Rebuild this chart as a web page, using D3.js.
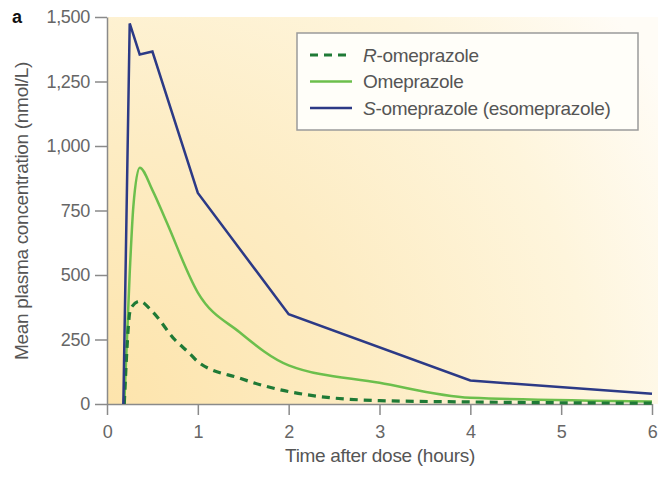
<!DOCTYPE html>
<html lang="en">
<head>
<meta charset="UTF-8">
<title>Omeprazole plasma concentration</title>
<style>
body { margin: 0; background: #fff; }
svg { font-family: "Liberation Sans", Arial, sans-serif; }
.axis path, .axis line { stroke: #8a8a8a; stroke-width: 1.5; }
.axis text { fill: #666; font-size: 18px; letter-spacing: -0.3px; }
</style>
</head>
<body>
<svg width="658" height="477"></svg>
<script src="https://d3js.org/d3.v7.min.js"></script>
<script>

// R-omeprazole
const rTimes  = [0.19, 0.26, 0.36, 0.5, 0.75, 0.91, 1, 1.46, 2, 3, 4, 6];
const rValues = [0, 370, 398, 358, 248, 196, 164, 100, 48, 13, 8, 3];

// Omeprazole (racemic)
const oTimes  = [0.19, 0.25, 0.29, 0.36, 0.5, 0.65, 1, 1.46, 2, 3, 4, 6];
const oValues = [0, 507, 765, 916, 829, 710, 432, 278, 150, 82, 24, 10];

// S-omeprazole (esomeprazole)
const sTimes  = [0.18, 0.25, 0.36, 0.5, 1, 2, 4, 6];
const sValues = [0, 1475, 1355, 1366, 818, 348, 91, 40];

const xTicks = [0, 1, 2, 3, 4, 5, 6];
const yTicks = [0, 250, 500, 750, 1000, 1250, 1500];

const legendLabels = [
    ['R', '-omeprazole'],
    ['', 'Omeprazole'],
    ['S', '-omeprazole (esomeprazole)']
];

var svg = d3.select('svg');

var x = d3.scaleLinear().domain([0, 6]).range([107, 652]);
var y = d3.scaleLinear().domain([0, 1500]).range([404, 17]);

// background gradient
var defs = svg.append('defs');
var grad = defs.append('radialGradient')
    .attr('id', 'bg')
    .attr('gradientUnits', 'userSpaceOnUse')
    .attr('cx', 108).attr('cy', 404).attr('r', 640);
grad.append('stop').attr('offset', 0).attr('stop-color', '#fde4ac');
grad.append('stop').attr('offset', 0.4).attr('stop-color', '#fdecc3');
grad.append('stop').attr('offset', 0.75).attr('stop-color', '#fef5dc');
grad.append('stop').attr('offset', 1).attr('stop-color', '#fffcf6');

svg.append('rect')
    .attr('x', 108).attr('y', 17)
    .attr('width', 550).attr('height', 387)
    .attr('fill', 'url(#bg)');

// axes
svg.append('g')
    .attr('class', 'axis')
    .attr('transform', 'translate(0,404)')
    .call(d3.axisBottom(x).tickValues(xTicks).tickFormat(d3.format('d')).tickSize(11).tickPadding(8).tickSizeOuter(0))
    .call(g => g.selectAll('text').attr('dy', '0.85em'));

svg.append('g')
    .attr('class', 'axis')
    .attr('transform', 'translate(107,0)')
    .call(d3.axisLeft(y).tickValues(yTicks).tickFormat(d3.format(',')).tickSize(12).tickPadding(5).tickSizeOuter(0));

// axis titles
svg.append('text')
    .attr('x', 380).attr('y', 462)
    .attr('text-anchor', 'middle')
    .attr('fill', '#555')
    .attr('font-size', 19)
    .attr('letter-spacing', -0.3)
    .text('Time after dose (hours)');

svg.append('text')
    .attr('transform', 'translate(28,211) rotate(-90)')
    .attr('text-anchor', 'middle')
    .attr('fill', '#555')
    .attr('font-size', 19)
    .attr('letter-spacing', -0.3)
    .text('Mean plasma concentration (nmol/L)');

svg.append('text')
    .attr('x', 12).attr('y', 23)
    .attr('font-size', 18)
    .attr('font-weight', 'bold')
    .attr('fill', '#111')
    .text('a');

// lines
var lineSmooth = d3.line()
    .x(d => x(d[0]))
    .y(d => y(d[1]))
    .curve(d3.curveMonotoneX);

var lineStraight = d3.line()
    .x(d => x(d[0]))
    .y(d => y(d[1]));

svg.append('path')
    .datum(oTimes.map((t, i) => [t, oValues[i]]))
    .attr('fill', 'none')
    .attr('stroke', '#6cbf4c')
    .attr('stroke-width', 2.5)
    .attr('d', lineSmooth);

svg.append('path')
    .datum(rTimes.map((t, i) => [t, rValues[i]]))
    .attr('fill', 'none')
    .attr('stroke', '#1f7a36')
    .attr('stroke-width', 3.2)
    .attr('stroke-dasharray', '8,6')
    .attr('d', lineSmooth);

svg.append('path')
    .datum(sTimes.map((t, i) => [t, sValues[i]]))
    .attr('fill', 'none')
    .attr('stroke', '#2c3a86')
    .attr('stroke-width', 2.5)
    .attr('stroke-linejoin', 'miter')
    .attr('d', lineStraight);

// legend
var legend = svg.append('g');
legend.append('rect')
    .attr('x', 297).attr('y', 33)
    .attr('width', 341).attr('height', 97)
    .attr('fill', '#fffef9')
    .attr('stroke', '#9a9a9a')
    .attr('stroke-width', 1.5);

var legendStyles = [
    { color: '#1f7a36', dash: '8,6', width: 3.2 },
    { color: '#6cbf4c', dash: null, width: 2.5 },
    { color: '#2c3a86', dash: null, width: 2.5 }
];

legendLabels.forEach((lab, i) => {
    var yy = 55 + i * 26.5;
    legend.append('line')
        .attr('x1', 310).attr('x2', 352)
        .attr('y1', yy).attr('y2', yy)
        .attr('stroke', legendStyles[i].color)
        .attr('stroke-width', legendStyles[i].width)
        .attr('stroke-dasharray', legendStyles[i].dash);
    var t = legend.append('text')
        .attr('x', 363).attr('y', yy + 6.5)
        .attr('font-size', 19)
        .attr('letter-spacing', -0.3)
        .attr('fill', '#555');
    if (lab[0]) t.append('tspan').attr('font-style', 'italic').text(lab[0]);
    t.append('tspan').text(lab[1]);
});

</script>
</body>
</html>
